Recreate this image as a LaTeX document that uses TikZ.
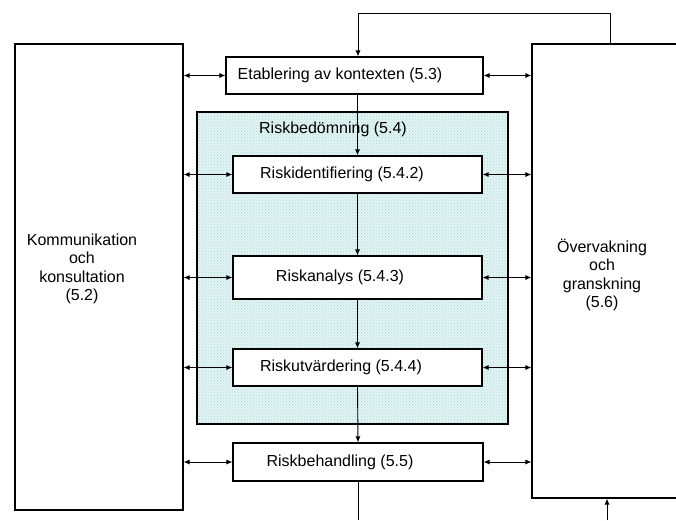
\documentclass[tikz,border=0pt]{standalone}
\usepackage{fontspec}
\setmainfont{Liberation Sans}
\usetikzlibrary{arrows.meta,patterns}
\definecolor{hatchbg}{RGB}{226,244,244}
\definecolor{hatchdot}{RGB}{172,214,214}

\begin{document}
\begin{tikzpicture}[x=1pt, y=-1pt, line width=1.1pt,
		box/.style={draw, fill=white, rectangle, inner sep=0pt},
		txt/.style={font=\fontsize{16}{18.4}\selectfont, align=center, inner sep=0pt},
		flow/.style={line width=0.9pt, -{Latex[length=6pt,width=5pt]}},
		twoway/.style={line width=0.9pt, {Latex[length=6pt,width=5pt]}-{Latex[length=6pt,width=5pt]}}]
			\useasboundingbox (0,0) rectangle (676,520);
			\clip (0,0) rectangle (676,520);

			% Draw the two side boxes
			\node[box, minimum width=168pt, minimum height=466pt] (komm) at (99,277) {};
			\node[txt] (kommtxt) at (82,269) {Kommunikation\\och\\konsultation\\(5.2)};
			\node[box, minimum width=200pt, minimum height=454pt] (overv) at (632,271) {};
			\node[txt] (overvtxt) at (602,275) {Övervakning\\och\\granskning\\(5.6)};

			% Draw the shaded risk assessment area
			\node[draw, rectangle, preaction={fill=hatchbg}, pattern=crosshatch dots, pattern color=hatchdot,
				minimum width=311pt, minimum height=312pt] (riskbed) at (352.5,268) {};
			\node[txt] (riskbedtxt) at (333,129) {Riskbedömning (5.4)};

			% Draw the process steps
			\node[box, minimum width=257pt, minimum height=37pt] (etab) at (354.5,75.5) {};
			\node[txt] (etabtxt) at (340,75.5) {Etablering av kontexten (5.3)};
			\node[box, minimum width=249pt, minimum height=37pt] (riskid) at (357.5,174.5) {};
			\node[txt] (riskidtxt) at (342,174.5) {Riskidentifiering (5.4.2)};
			\node[box, minimum width=249pt, minimum height=43pt] (riskan) at (357.5,277.5) {};
			\node[txt] (riskantxt) at (340,277.5) {Riskanalys (5.4.3)};
			\node[box, minimum width=249pt, minimum height=37pt] (riskutv) at (357.5,367.5) {};
			\node[txt] (riskutvtxt) at (341,367.5) {Riskutvärdering (5.4.4)};
			\node[box, minimum width=250pt, minimum height=38pt] (riskbeh) at (358,462) {};
			\node[txt] (riskbehtxt) at (340,462) {Riskbehandling (5.5)};

			% Draw the main flow downwards
			\draw[flow] (etab.south -| riskid.north) -- (riskid.north);
			\draw[flow] (riskid.south) -- (riskan.north);
			\draw[flow] (riskan.south) -- (riskutv.north);
			\draw[flow] (riskutv.south) -- (riskbeh.north);
			\coordinate (outlow) at (358,520);
			\draw[line width=0.9pt] (riskbeh.south) -- (outlow);

			% Draw the feedback loops into and out of the review box
			\coordinate (fbstart) at (610,44);
			\coordinate (fbtop) at (358,13);
			\draw[flow] (fbstart) |- (fbtop) -- (etab.north -| fbtop);
			\coordinate (inlow) at (607,520);
			\draw[flow] (inlow) -- (inlow |- overv.south);

			% Draw the two-way links to communication and review
			\foreach \step in {etab, riskid, riskan, riskutv, riskbeh} {
				\draw[twoway] (komm.east |- \step.west) -- (\step.west);
				\draw[twoway] (\step.east) -- (overv.west |- \step.east);
			}
		\end{tikzpicture}
\end{document}
